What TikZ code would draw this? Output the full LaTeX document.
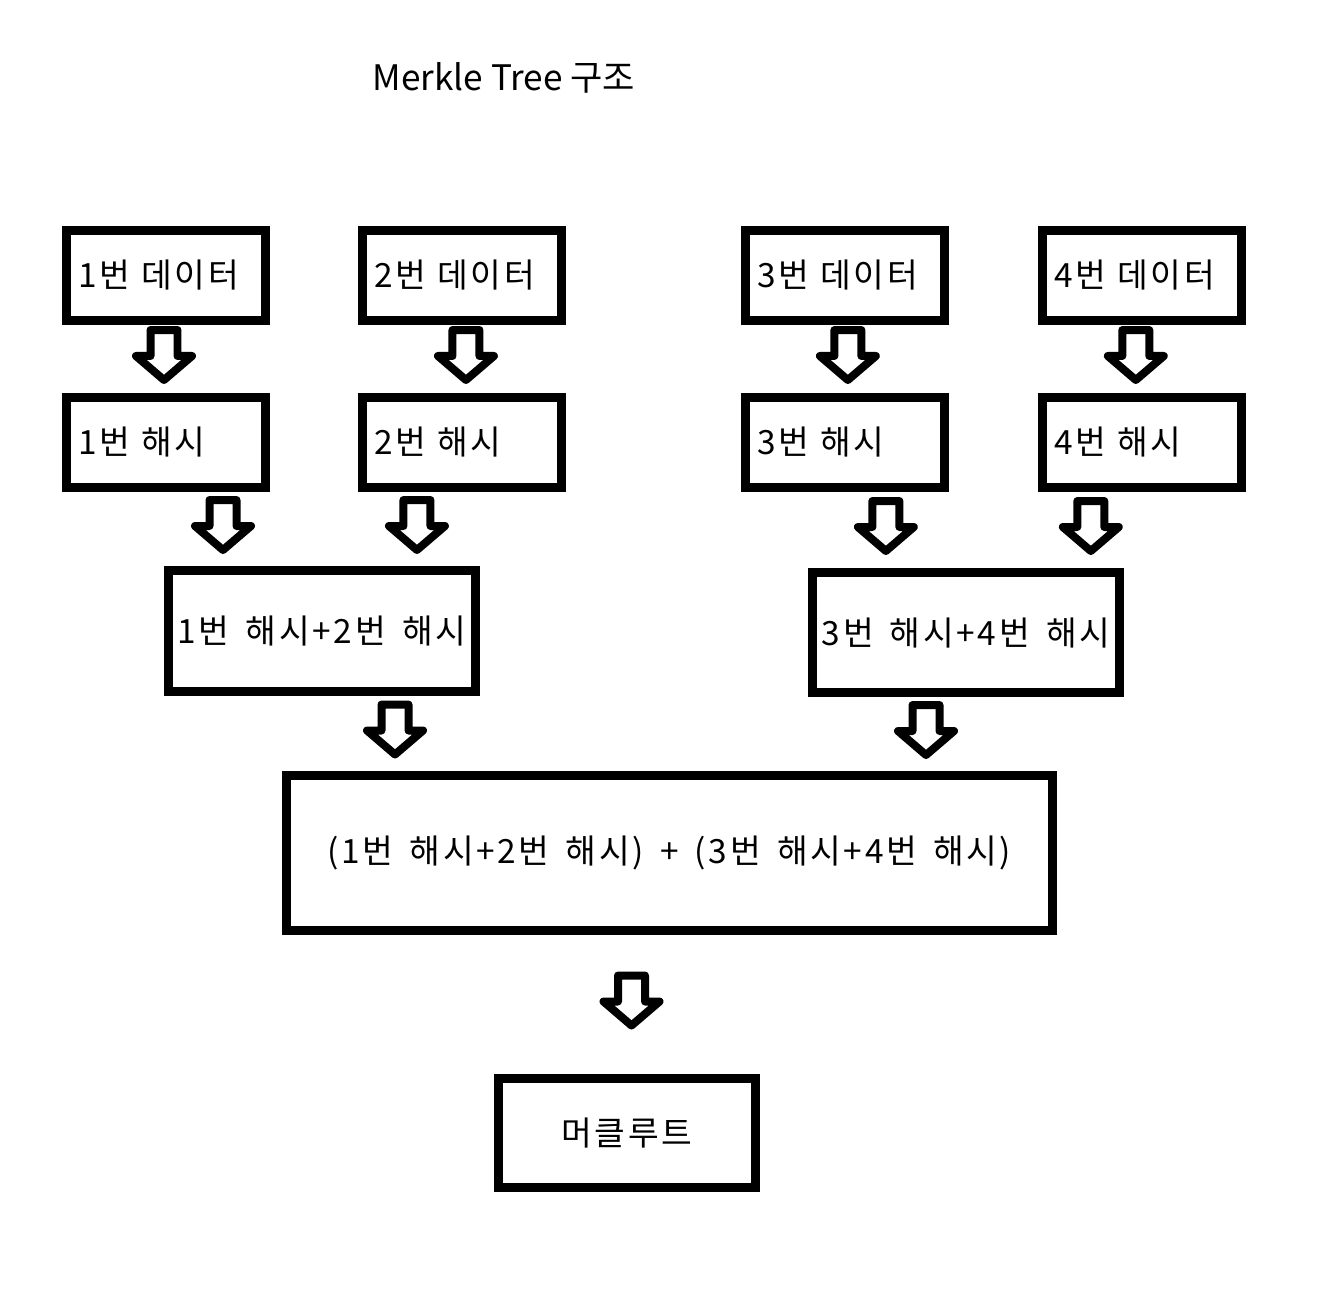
\documentclass[tikz,border=0pt]{standalone}
\usepackage{fontspec}
\setmainfont{Noto Sans CJK KR}
\newfontfamily\boxfont{Noto Sans CJK KR}[LetterSpace=8,WordSpace=1.6]
\usepackage{tikz}
\usetikzlibrary{calc,positioning}

% hollow block arrow between two boxes, [x offset] from the source centre
\newcommand{\fatdown}[3][0]{%
  \draw[fatarrow] let \p1=($(#2.south)+(#1,0)$), \p2=(#3.north),
      \p3=($(\p1)!.5!(\p2)+(0,-4)$) in
    (\x1-0.27cm,\y3+0.5cm) -- (\x1+0.27cm,\y3+0.5cm) -- (\x1+0.27cm,\y3-0.02cm)
    -- (\x1+0.56cm,\y3-0.02cm) -- (\x1,\y3-0.5cm) -- (\x1-0.56cm,\y3-0.02cm)
    -- (\x1-0.27cm,\y3-0.02cm) -- cycle;}

\begin{document}
\begin{tikzpicture}[x=0.02cm, y=-0.02cm, font=\fontsize{19pt}{23pt}\selectfont,
      box/.style={draw, line width=0.18cm, inner sep=0pt, font=\fontsize{19pt}{23pt}\boxfont},
      leafbox/.style={box, minimum height=1.8cm, text width=3.5cm, align=left, inner xsep=0.24cm},
      fatarrow/.style={draw, fill=white, line width=0.16cm, line join=round}]
    \useasboundingbox (0,0) rectangle (1324,1296);
    \node[font=\fontsize{20pt}{24pt}\selectfont] (title) at (504,78) {Merkle Tree 구조};
    % data and hash boxes
    \node[leafbox] (d1) at (166,275.5) {1번 데이터};
    \node[leafbox, right=1.76cm of d1] (d2) {2번 데이터};
    \node[leafbox, right=3.5cm of d2] (d3) {3번 데이터};
    \node[leafbox, right=1.78cm of d3] (d4) {4번 데이터};
    \node[leafbox, below=1.36cm of d1] (h1) {1번 해시};
    \node[leafbox, below=1.36cm of d2] (h2) {2번 해시};
    \node[leafbox, below=1.36cm of d3] (h3) {3번 해시};
    \node[leafbox, below=1.36cm of d4] (h4) {4번 해시};
    % combined hashes
    \node[box, minimum width=6.14cm, minimum height=2.42cm] (h12) at (322,631) {1번 해시+2번 해시};
    \node[box, minimum width=6.14cm, minimum height=2.4cm] (h34) at (966,632.5) {3번 해시+4번 해시};
    \node[box, minimum width=15.32cm, minimum height=3.1cm] (top) at (669.5,853)
      {(1번 해시+2번 해시) + (3번 해시+4번 해시)};
    \node[box, minimum width=5.14cm, minimum height=2.18cm] (root) at (627,1133) {머클루트};
    % arrows
    \fatdown[-2]{d1}{h1}
    \fatdown[4]{d2}{h2}
    \fatdown[3]{d3}{h3}
    \fatdown[-6]{d4}{h4}
    \fatdown[57]{h1}{h12}
    \fatdown[-45]{h2}{h12}
    \fatdown[41]{h3}{h34}
    \fatdown[-51]{h4}{h34}
    \fatdown[73]{h12}{top}
    \fatdown[-40]{h34}{top}
    \fatdown[-38]{top}{root}
  \end{tikzpicture}
\end{document}
